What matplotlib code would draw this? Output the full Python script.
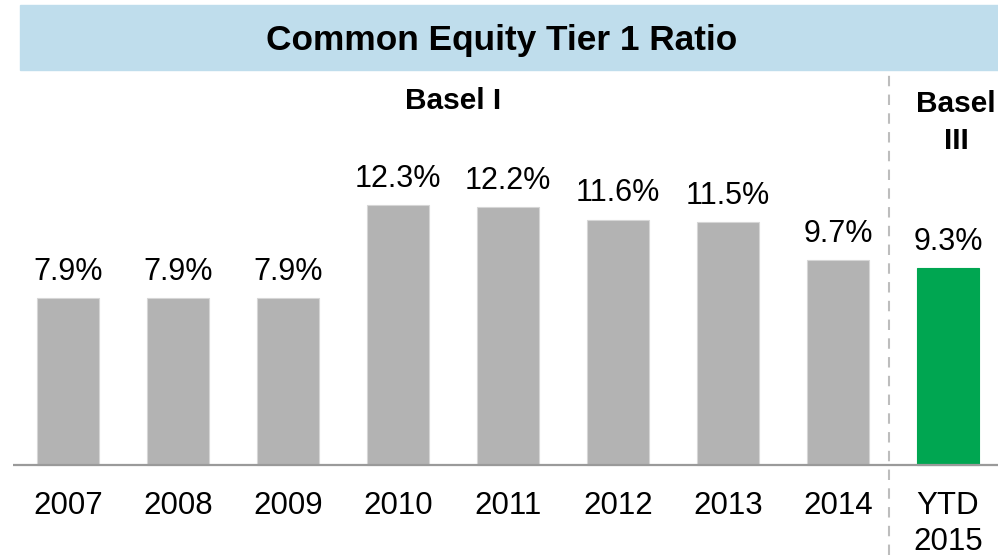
import matplotlib
matplotlib.use("Agg")
import matplotlib.pyplot as plt
import numpy as np
from matplotlib.patches import Rectangle

plt.rcParams["font.family"] = ["Liberation Sans", "DejaVu Sans"]

# data
categories = ["2007", "2008", "2009", "2010", "2011", "2012", "2013", "2014", "YTD\n2015"]
ratios = [7.9, 7.9, 7.9, 12.3, 12.2, 11.6, 11.5, 9.7, 9.3]
value_labels = ["7.9%", "7.9%", "7.9%", "12.3%", "12.2%", "11.6%", "11.5%", "9.7%", "9.3%"]
title = "Common Equity Tier 1 Ratio"
era_labels = ["Basel I", "Basel\nIII"]

GREY = "#B3B3B3"
GREEN = "#00A651"
BAND = "#BFDDEC"

W, H = 998, 555
fig = plt.figure(figsize=(W / 100, H / 100), dpi=100)
ax = fig.add_axes([0, 0, 1, 1])
ax.axis("off")

# pixel layout -> data limits
x0_px, step_px = 68, 110
base_px, px_per_pct = 465, 260 / 12.3
ax.set_xlim(-x0_px / step_px, (W - x0_px) / step_px)
ax.set_ylim(-(H - base_px) / px_per_pct, base_px / px_per_pct)

x = np.arange(len(categories))
colors = [GREY] * (len(categories) - 1) + [GREEN]
edges = ["#D6D6D6"] * (len(categories) - 1) + [GREEN]
ax.bar(x, ratios, width=62 / step_px, color=colors, edgecolor=edges,
       linewidth=0.8, zorder=2)

# baseline
ax.plot([-0.5, ax.get_xlim()[1]], [0, 0], color="#9A9A9A", lw=1.6, zorder=3,
        solid_capstyle="butt")

# value labels
for xi, v, lab in zip(x, ratios, value_labels):
    ax.annotate(lab, xy=(xi, v), xytext=(0, 13.2), textcoords="offset points",
                ha="center", va="baseline", fontsize=22, color="black")

# category labels
for xi, cat in zip(x, categories):
    ax.annotate(cat, xy=(xi, 0), xytext=(0, -18.5), textcoords="offset points",
                ha="center", va="top", fontsize=22.5, color="black",
                linespacing=1.27)

# divider between Basel I and Basel III
div_x = (len(categories) - 2) + 0.464
ax.axvline(div_x, ymin=0, ymax=(H - 70) / H, color="#BDBDBD", lw=1.5,
           linestyle=(0, (5, 4)), zorder=1)

# era labels
ax.text((len(categories) - 2) / 2, (base_px - 87) / px_per_pct, era_labels[0],
        ha="center", va="top", fontsize=21.5, fontweight="bold")
ax.text(len(categories) - 1 + 0.075, (base_px - 90) / px_per_pct, era_labels[1],
        ha="center", va="top", fontsize=21.5, fontweight="bold",
        multialignment="center", linespacing=1.4)

# title band
fig.patches.append(Rectangle((20 / W, (H - 70) / H), 1 - 20 / W, 65 / H,
                             transform=fig.transFigure, color=BAND, zorder=0))
fig.text(502 / W, (H - 50) / H, title, ha="center", va="baseline",
         fontsize=25.4, fontweight="bold")

fig.savefig("out.png", dpi=100)
